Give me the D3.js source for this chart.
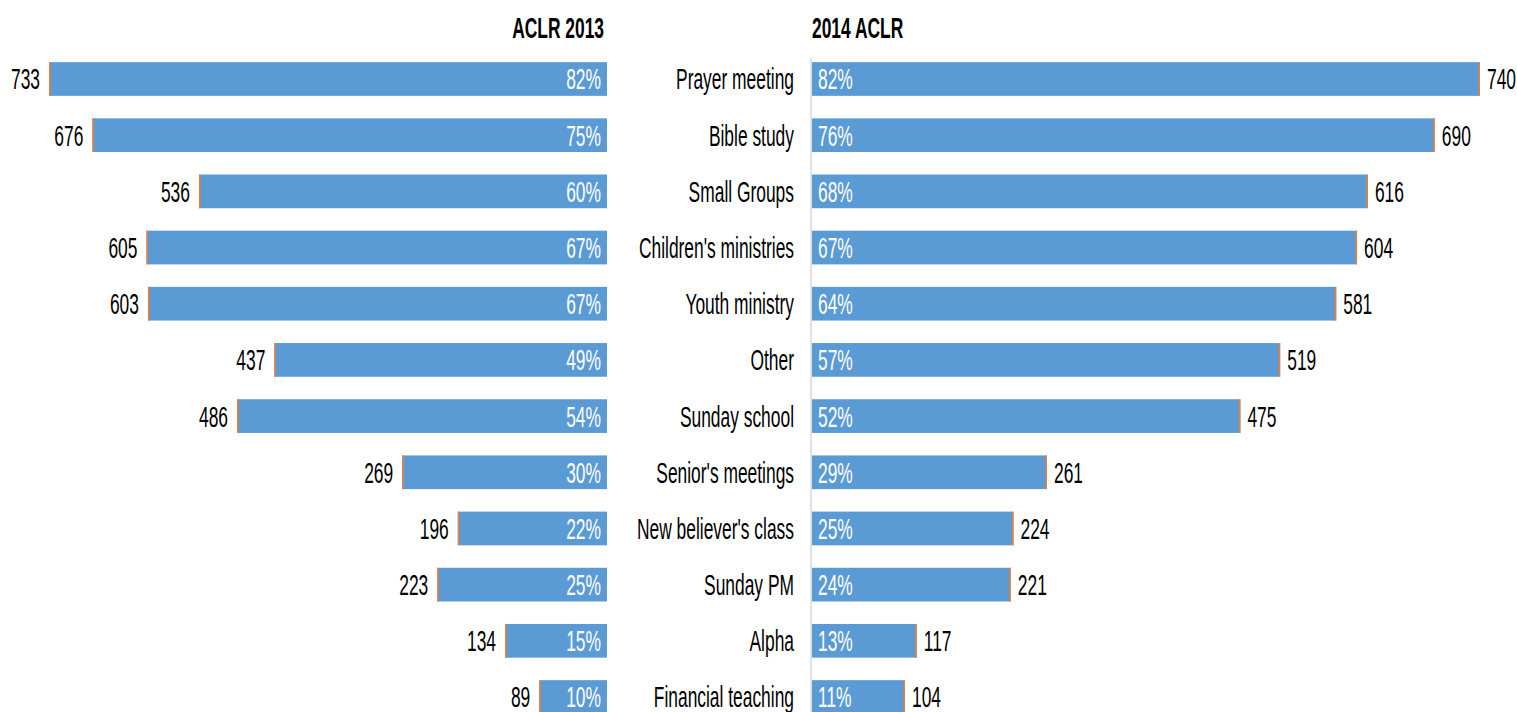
<!DOCTYPE html>
<html>
<head>
<meta charset="utf-8">
<script src="https://cdn.jsdelivr.net/npm/d3@7"></script>
<style>
  body { margin: 0; background: #fff; }
  svg text { font-family: "Liberation Sans", Arial, sans-serif; font-size: 29px; }
</style>
</head>
<body>
<svg id="svg" width="1517" height="712"></svg>
<script>
// categories (shared by both panels)
var categories = ["Prayer meeting", "Bible study", "Small Groups", "Children's ministries",
  "Youth ministry", "Other", "Sunday school", "Senior's meetings", "New believer's class",
  "Sunday PM ", "Alpha", "Financial teaching"];

// ACLR 2013 (left panel)
var counts2013 = [733, 676, 536, 605, 603, 437, 486, 269, 196, 223, 134, 89];
var pct2013 = ["82%", "75%", "60%", "67%", "67%", "49%", "54%", "30%", "22%", "25%", "15%", "10%"];

// 2014 ACLR (right panel)
var counts2014 = [740, 690, 616, 604, 581, 519, 475, 261, 224, 221, 117, 104];
var pct2014 = ["82%", "76%", "68%", "67%", "64%", "57%", "52%", "29%", "25%", "24%", "13%", "11%"];

var blue = "#5b9bd5", orange = "#ed7d31";
var squeeze = 0.6; // the text in the original is very narrow
var svg = d3.select("#svg");

var y = d3.scaleBand()
  .domain(categories)
  .range([50.9, 725.1])
  .paddingInner(0.4)
  .paddingOuter(0.2);

var mid = function(cat) { return y(cat) + y.bandwidth() / 2; };

// put a narrow text at (x, y)
var placeText = function(sel, fx, fy) {
  sel.attr("transform", function(d) {
      return "translate(" + fx(d) + "," + fy(d) + ") scale(" + squeeze + ",1)";
    })
    .attr("dy", "0.36em");
  return sel;
};

// ---- left panel: bars grow leftwards from x = 607
var leftEnd = 607;
var xLeft = d3.scaleLinear().domain([0, 733]).range([leftEnd, 49]);

var lrows = svg.append("g").selectAll("g")
  .data(categories.map(function(c, i) { return { cat: c, v: counts2013[i], p: pct2013[i] }; }))
  .enter().append("g");

lrows.append("rect")
  .attr("x", function(d) { return xLeft(d.v); })
  .attr("y", function(d) { return y(d.cat); })
  .attr("width", function(d) { return leftEnd - xLeft(d.v); })
  .attr("height", y.bandwidth())
  .attr("fill", blue);

lrows.append("rect")
  .attr("x", function(d) { return xLeft(d.v); })
  .attr("y", function(d) { return y(d.cat); })
  .attr("width", 1.5)
  .attr("height", y.bandwidth())
  .attr("fill", orange);

placeText(lrows.append("text"),
    function(d) { return xLeft(d.v) - 9; },
    function(d) { return mid(d.cat); })
  .text(function(d) { return d.v; })
  .attr("text-anchor", "end")
  .attr("fill", "#000");

placeText(lrows.append("text"),
    function(d) { return leftEnd - 6; },
    function(d) { return mid(d.cat); })
  .text(function(d) { return d.p; })
  .attr("text-anchor", "end")
  .attr("fill", "#fff");

svg.append("text")
  .text("ACLR 2013")
  .attr("transform", "translate(604,38) scale(" + squeeze + ",1)")
  .attr("text-anchor", "end")
  .attr("font-weight", "bold");

// ---- right panel: bars grow rightwards from x = 811
var rightStart = 811;
var xRight = d3.scaleLinear().domain([0, 740]).range([rightStart, 1480]);

svg.append("line")
  .attr("x1", rightStart).attr("x2", rightStart)
  .attr("y1", 58).attr("y2", 712)
  .attr("stroke", "#d9d9d9")
  .attr("stroke-width", 1.5);

var rrows = svg.append("g").selectAll("g")
  .data(categories.map(function(c, i) { return { cat: c, v: counts2014[i], p: pct2014[i] }; }))
  .enter().append("g");

rrows.append("rect")
  .attr("x", rightStart + 1)
  .attr("y", function(d) { return y(d.cat); })
  .attr("width", function(d) { return xRight(d.v) - rightStart - 1; })
  .attr("height", y.bandwidth())
  .attr("fill", blue);

rrows.append("rect")
  .attr("x", function(d) { return xRight(d.v) - 1.5; })
  .attr("y", function(d) { return y(d.cat); })
  .attr("width", 1.5)
  .attr("height", y.bandwidth())
  .attr("fill", orange);

placeText(rrows.append("text"),
    function(d) { return xRight(d.v) + 7; },
    function(d) { return mid(d.cat); })
  .text(function(d) { return d.v; })
  .attr("fill", "#000");

placeText(rrows.append("text"),
    function(d) { return rightStart + 7; },
    function(d) { return mid(d.cat); })
  .text(function(d) { return d.p; })
  .attr("fill", "#fff");

placeText(rrows.append("text"),
    function(d) { return 794; },
    function(d) { return mid(d.cat); })
  .text(function(d) { return d.cat; })
  .attr("text-anchor", "end")
  .attr("fill", "#000");

svg.append("text")
  .text("2014 ACLR")
  .attr("transform", "translate(812,38) scale(" + squeeze + ",1)")
  .attr("font-weight", "bold");
</script>
</body>
</html>
